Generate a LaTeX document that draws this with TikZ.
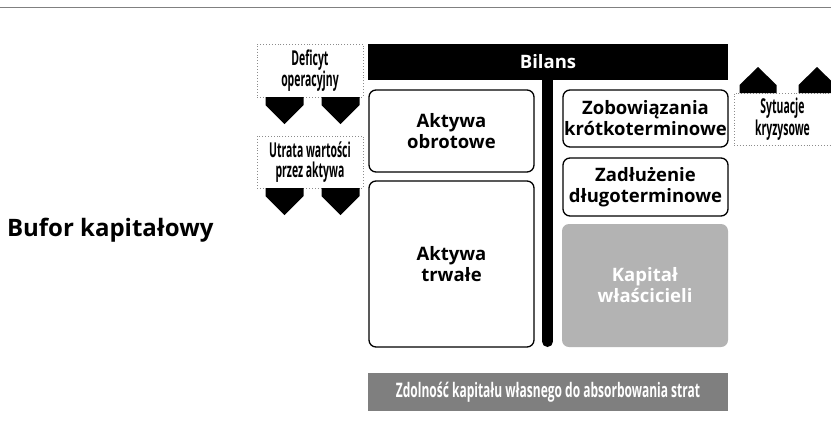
\documentclass[tikz,border=0pt]{standalone}
\usepackage{fontspec}
\setmainfont{Open Sans}
\newfontfamily\narrowfont[FakeStretch=0.6]{Open Sans}
\newfontfamily\tightfont[FakeStretch=0.51]{Open Sans}
\definecolor{equitygray}{HTML}{B3B3B3}
\definecolor{bargray}{HTML}{7F7F7F}
\definecolor{dotgray}{HTML}{8C8C8C}
\begin{document}
\begin{tikzpicture}[x=1pt,y=-1pt,
  every node/.style={inner sep=0pt, outer sep=0pt},
  item/.style={draw=black, line width=1.3pt, rounded corners=7pt, fill=white,
    align=center, anchor=north west, font=\fontsize{18.5}{21}\selectfont\bfseries},
  equity/.style={fill=equitygray, rounded corners=7pt, text=white,
    align=center, anchor=north west, font=\fontsize{18.5}{21}\selectfont\bfseries},
  header/.style={fill=black, text=white, anchor=north west,
    font=\fontsize{18.5}{21}\selectfont\bfseries},
  footer/.style={fill=bargray, text=white, anchor=north west,
    font=\narrowfont\fontsize{20}{22}\selectfont\bfseries},
  risk/.style={draw=dotgray, dotted, line width=0.9pt, align=center,
    anchor=north west, font=\tightfont\fontsize{20.5}{19.5}\selectfont\bfseries},
  title/.style={anchor=west, font=\fontsize{24}{28}\selectfont\bfseries},
  spine/.style={line width=11pt, line cap=round},
  rule/.style={draw=gray, line width=1pt},
  pointer/.style={fill=black}
]
\useasboundingbox (0,0) rectangle (831,440);

% top rule
\coordinate (ruleL) at (0,7);
\coordinate (ruleR) at (831,7);
\draw[rule] (ruleL) -- (ruleR);

% balance sheet header and central spine
\node[header, minimum width=360pt, minimum height=36pt] (bilans) at (368,44) {Bilans};
\coordinate (spineend) at (547.5,341.5);
\draw[spine] (bilans.south -| spineend) -- (spineend);

% assets
\node[item, minimum width=165pt, minimum height=82pt] (obrotowe) at (369,90) {Aktywa\\obrotowe};
\node[item, minimum width=165pt, minimum height=166pt] (trwale) at (369,181) {Aktywa\\trwałe};

% liabilities and equity
\node[item, minimum width=165pt, minimum height=57pt] (zobow) at (563,90) {Zobowiązania\\krótkoterminowe};
\node[item, minimum width=165pt, minimum height=58pt] (zadluz) at (563,158) {Zadłużenie\\długoterminowe};
\node[equity, minimum width=166pt, minimum height=123pt] (kapital) at (562,224) {Kapitał\\właścicieli};

% bottom bar
\node[footer, minimum width=360pt, minimum height=38pt] (zdolnosc) at (368,373)
  {Zdolność kapitału własnego do absorbowania strat};

% left title
\node[title] (bufor) at (7,230) {Bufor kapitałowy};

% risk factors
\node[risk, minimum width=106pt, minimum height=53pt] (deficyt) at (257,44) {Deficyt\\operacyjny};
\node[risk, minimum width=106pt, minimum height=52pt] (utrata) at (257,136) {Utrata wartości\\przez aktywa};
\node[risk, minimum width=97pt, minimum height=52pt] (sytuacje) at (734,93) {Sytuacje\\kryzysowe};

% downward pointers
\foreach \src in {deficyt, utrata} {
  \foreach \dx in {-25.5, 30.5} {
    \fill[pointer] ([xshift=\dx pt-19pt]\src.south) -- ++(38,0) -- ++(0,8)
      -- ++(-19,19) -- ++(-19,-19) -- cycle;
  }
}
% upward pointers
\foreach \dx in {-24.5, 34.5} {
  \fill[pointer] ([xshift=\dx pt-18.5pt]sytuacje.north) -- ++(37,0) -- ++(0,-8)
    -- ++(-18.5,-18) -- ++(-18.5,18) -- cycle;
}
\end{tikzpicture}
\end{document}
